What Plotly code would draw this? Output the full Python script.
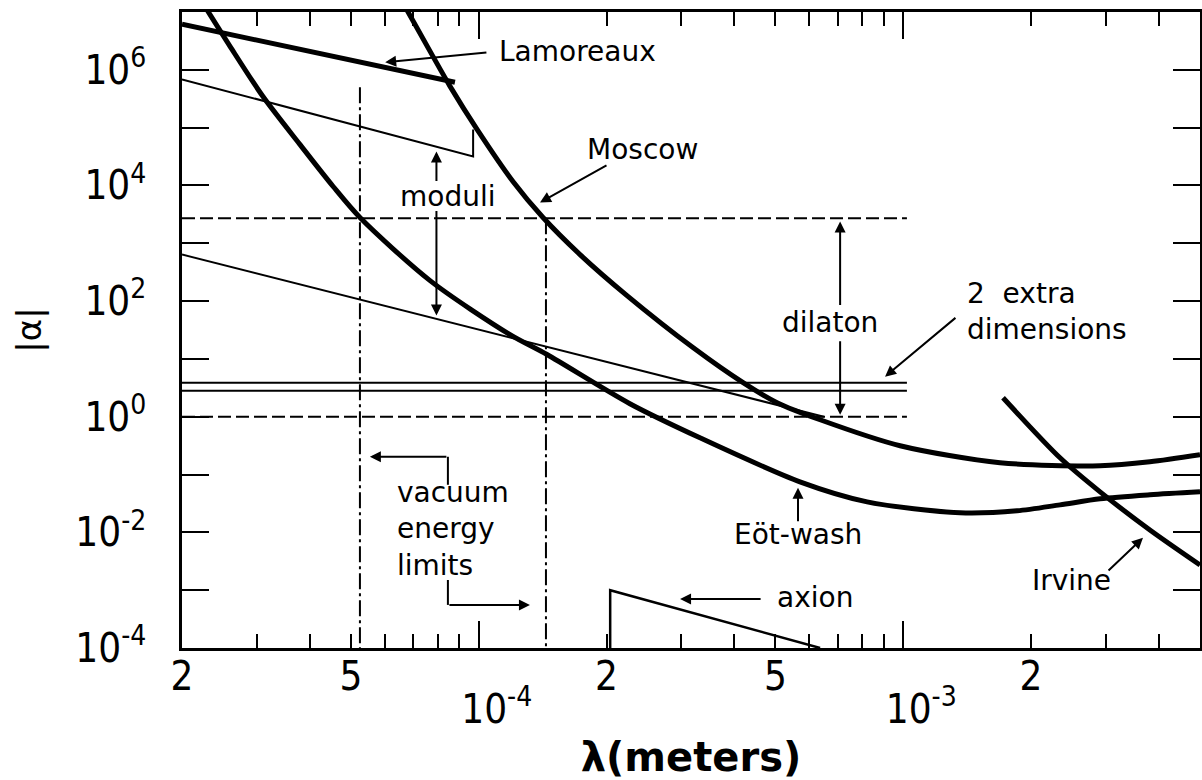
import numpy as np
import plotly.graph_objects as go

# ---------------- data (lambda in meters, |alpha|) ----------------
moscow_x = [6.53e-5, 7.80e-5, 8.56e-5, 9.91e-5, 1.204e-4, 1.417e-4, 1.732e-4, 2.235e-4,
            3.196e-4, 4.195e-4, 5.043e-4, 6.37e-4, 9.83e-4, 1.69e-3, 2.908e-3, 3.81e-3, 5.0e-3]
moscow_y = [1.75e7, 1.71e6, 5.18e5, 9.33e4, 1.17e4, 2.79e3, 638, 124.5,
            15.7, 3.88, 1.75, 0.887, 0.315, 0.160, 0.142, 0.166, 0.22]

eotwash_x = [2.21e-5, 2.595e-5, 3.10e-5, 3.79e-5, 4.54e-5, 5.25e-5, 7.68e-5, 1.185e-4,
             1.448e-4, 2.27e-4, 3.32e-4, 5.71e-4, 8.22e-4, 1.36e-3, 1.854e-3, 2.34e-3,
             2.908e-3, 3.81e-3, 5.0e-3]
eotwash_y = [1.66e7, 2.55e6, 3.48e5, 5.13e4, 9.6e3, 2.79e3, 226, 26.3,
             11.9, 1.68, 0.432, 0.0748, 0.0337, 0.0218, 0.0236, 0.0299,
             0.038, 0.0446, 0.0502]

irvine_x = [1.718e-3, 2.34e-3, 2.908e-3, 3.81e-3, 5.0e-3]
irvine_y = [2.13, 0.195, 0.0502, 0.0110, 0.00273]

lamoreaux_x = [2.0e-5, 8.79e-5]
lamoreaux_y = [6.14e6, 6.08e5]

moduli_upper_x = [2.0e-5, 9.7e-5, 9.7e-5]
moduli_upper_y = [6.84e5, 3.18e4, 9.3e4]
moduli_lower_x = [2.0e-5, 6.5e-4]
moduli_lower_y = [638, 1.0]

band_x = [2.0e-5, 1.02e-3]           # x extent of the theory bands
extra_dim_y = [3.88, 2.82]           # "2 extra dimensions"
dilaton_y = [2.7e3, 1.0]             # dilaton range

vacuum_x = [5.25e-5, 1.44e-4]        # vacuum energy limits
vacuum_top = [5.0e5, 2.7e3]
y_floor = 1e-4

axion_x = [2.04e-4, 2.04e-4, 6.37e-4]
axion_y = [1e-4, 1.0e-3, 1e-4]

# arrows: (tip_x, tip_y, tail_x, tail_y)
arrows = [
    (6.02e-5, 1.35e6, 1.051e-4, 2.01e6),    # Lamoreaux
    (1.394e-4, 5.08e3, 2.016e-4, 2.31e4),   # Moscow
    (7.95e-5, 3.88e4, 7.95e-5, 1.13e4),     # moduli up
    (7.95e-5, 56.1, 7.95e-5, 3.84e3),       # moduli down
    (7.1e-4, 2.38e3, 7.1e-4, 80.3),         # dilaton up
    (7.1e-4, 1.08, 7.1e-4, 21.5),           # dilaton down
    (9.06e-4, 4.93, 1.338e-3, 53.9),        # 2 extra dimensions
    (5.54e-5, 0.203, 8.46e-5, 0.203),       # vacuum left
    (1.32e-4, 5.56e-4, 8.46e-5, 5.56e-4),   # vacuum right
    (5.65e-4, 0.0589, 5.65e-4, 0.0146),     # Eot-wash
    (3.67e-3, 8.04e-3, 3.02e-3, 2.07e-3),   # Irvine
    (2.98e-4, 7.06e-4, 4.65e-4, 7.06e-4),   # axion
]
# elbow leaders for the vacuum energy arrows
vac_leader1_x = [8.46e-5, 8.46e-5]
vac_leader1_y = [0.0665, 0.203]
vac_leader2_x = [8.46e-5, 8.46e-5]
vac_leader2_y = [1.5e-3, 5.56e-4]

# labels: (text, x, y, xanchor, align)
labels = [
    ("Lamoreaux", 1.104e-4, 2.09e6, "left", "left"),
    ("Moscow", 1.78e-4, 4.2e4, "left", "left"),
    ("moduli", 8.46e-5, 6.46e3, "center", "center"),
    ("dilaton", 6.72e-4, 42.4, "center", "center"),
    ("2  extra<br>dimensions", 1.398e-3, 65.8, "left", "left"),
    ("vacuum<br>energy<br>limits", 6.35e-5, 0.0115, "left", "left"),
    ("Eöt-wash", 3.95e-4, 9.06e-3, "left", "left"),
    ("Irvine", 1.988e-3, 1.5e-3, "left", "left"),
    ("axion", 4.99e-4, 7.35e-4, "left", "left"),
]

x_minor_vals = [2e-5, 3e-5, 4e-5, 5e-5, 6e-5, 7e-5, 8e-5, 9e-5,
                2e-4, 3e-4, 4e-4, 5e-4, 6e-4, 7e-4, 8e-4, 9e-4,
                2e-3, 3e-3, 4e-3, 5e-3]
x_minor_text = ["2", "", "", "5", "", "", "", "",
                "2", "", "", "5", "", "", "", "",
                "2", "", "", "5"]
x_decade_vals = [1e-4, 1e-3]
x_decade_text = ["10<sup>-4</sup>", "10<sup>-3</sup>"]
y_tick_vals = [1e-4, 1e-3, 1e-2, 1e-1, 1, 1e1, 1e2, 1e3, 1e4, 1e5, 1e6]
y_tick_text = ["10<sup>-4</sup>", "", "10<sup>-2</sup>", "", "10<sup>0</sup>", "",
               "10<sup>2</sup>", "", "10<sup>4</sup>", "", "10<sup>6</sup>"]

X_RANGE = [2e-5, 5e-3]
Y_RANGE = [1e-4, 1e7]

# ---------------- figure ----------------
TICKFONT = "Liberation Sans Narrow, DejaVu Sans Condensed, Liberation Sans, sans-serif"
TEXTFONT = "DejaVu Sans, sans-serif"

thick = dict(color="black", width=5)
thin = dict(color="black", width=2)
dashed = dict(color="black", width=2, dash="13px,5px")
dashdot = dict(color="black", width=2, dash="16px,4px,3px,4px")

fig = go.Figure()


def add_line(x, y, line, xaxis="x", shape="linear"):
    ln = dict(line)
    ln["shape"] = shape
    if shape == "spline":
        ln["smoothing"] = 0.8
    fig.add_trace(go.Scatter(x=x, y=y, mode="lines", line=ln, hoverinfo="skip",
                             showlegend=False, xaxis=xaxis, yaxis="y"))


add_line(lamoreaux_x, lamoreaux_y, thick, xaxis="x2")
add_line(moscow_x, moscow_y, thick, shape="spline")
add_line(eotwash_x, eotwash_y, thick, shape="spline")
add_line(irvine_x, irvine_y, thick, shape="spline")
add_line(moduli_upper_x, moduli_upper_y, thin)
add_line(moduli_lower_x, moduli_lower_y, thin)
for yv in extra_dim_y:
    add_line(band_x, [yv, yv], thin)
for yv in dilaton_y:
    add_line(band_x, [yv, yv], dashed)
for xv, yt in zip(vacuum_x, vacuum_top):
    add_line([xv, xv], [yt, y_floor], dashdot)
add_line(axion_x, axion_y, dict(color="black", width=2.5))
add_line(vac_leader1_x, vac_leader1_y, thin)
add_line(vac_leader2_x, vac_leader2_y, thin)

annotations = []
for tx, ty, sx, sy in arrows:
    annotations.append(dict(
        x=np.log10(tx), y=np.log10(ty), ax=np.log10(sx), ay=np.log10(sy),
        xref="x", yref="y", axref="x", ayref="y", text="", showarrow=True,
        arrowhead=2, arrowsize=1.1, arrowwidth=2, arrowcolor="black"))
for text, lx, ly, xa, al in labels:
    annotations.append(dict(
        x=np.log10(lx), y=np.log10(ly), xref="x", yref="y", text=text,
        showarrow=False, xanchor=xa, yanchor="middle", align=al,
        font=dict(family=TEXTFONT, size=28, color="black")))

axis_common = dict(type="log", showline=True, linewidth=2.5, linecolor="black",
                   mirror="ticks", ticks="inside", tickwidth=2, tickcolor="black",
                   showgrid=False, zeroline=False, automargin=False, tickmode="array")
x_rng = [np.log10(X_RANGE[0]), np.log10(X_RANGE[1])]

fig.update_layout(
    width=1202, height=780,
    margin=dict(l=182, r=2, t=12, b=132),
    paper_bgcolor="white", plot_bgcolor="white", showlegend=False,
    annotations=annotations,
    xaxis=dict(axis_common, range=x_rng,
               ticklen=14, tickvals=x_minor_vals, ticktext=x_minor_text,
               ticklabelstandoff=-9,
               tickfont=dict(family=TICKFONT, size=40, color="black"),
               title=dict(text="<b>λ(meters)</b>", standoff=46,
                          font=dict(family=TEXTFONT, size=40, color="black"))),
    xaxis2=dict(axis_common, range=x_rng,
                overlaying="x", side="bottom", anchor="y",
                ticklen=27, tickvals=x_decade_vals, ticktext=x_decade_text,
                ticklabelstandoff=24, ticklabelshift=18,
                tickfont=dict(family=TICKFONT, size=40, color="black")),
    yaxis=dict(axis_common, range=[np.log10(Y_RANGE[0]), np.log10(Y_RANGE[1])],
               ticklen=27, tickvals=y_tick_vals, ticktext=y_tick_text,
               ticklabelstandoff=25,
               tickfont=dict(family=TICKFONT, size=40, color="black"),
               title=dict(text="|α|", standoff=24,
                          font=dict(family=TEXTFONT, size=34, color="black"))),
)

# remove the default page margin so the 1202x780 figure fills the window exactly
fig.write_html("out.html",
               config={"displayModeBar": False},
               post_script="document.body.style.margin='0';document.body.style.overflow='hidden';")
